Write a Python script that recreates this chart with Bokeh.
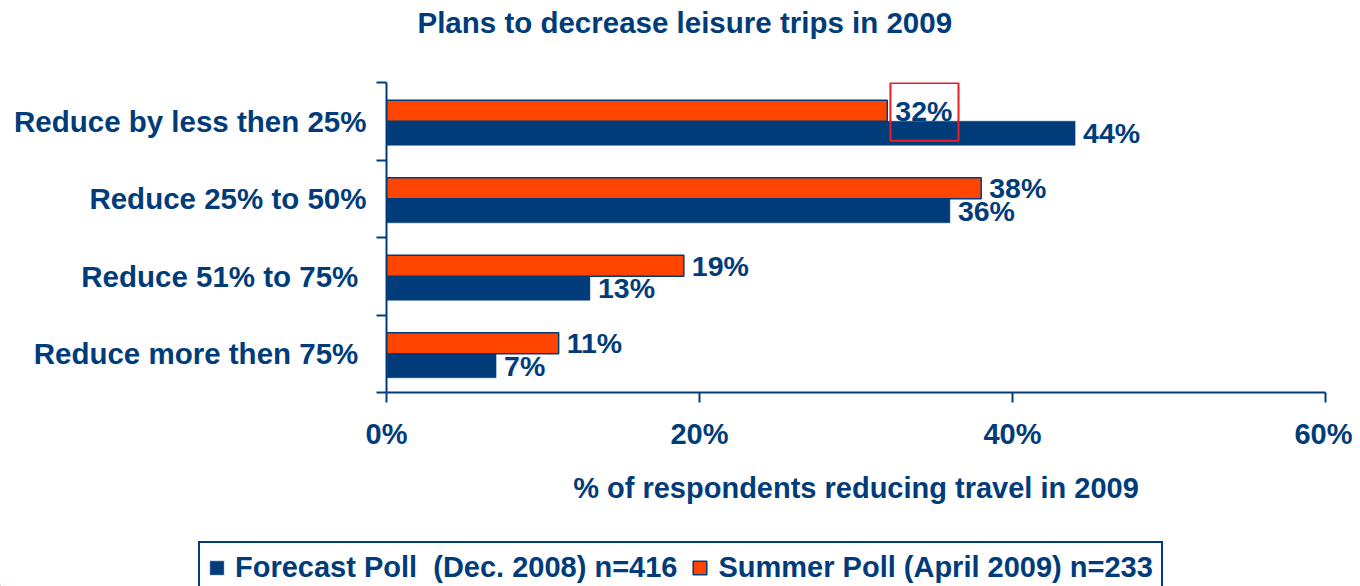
from bokeh.plotting import figure
from bokeh.layouts import column, row
from bokeh.models import (Range1d, FixedTicker, PrintfTickFormatter, Legend, LegendItem,
                          ColumnDataSource, BoxAnnotation, Title)
from bokeh.core.properties import value
from bokeh.embed import file_html
from bokeh.resources import INLINE

categories = ["Reduce by less then 25%", "Reduce 25% to 50%", "Reduce 51% to 75% ", "Reduce more then 75% "]
forecast = [44, 36, 13, 7]   # Forecast Poll (Dec. 2008)
summer = [32, 38, 19, 11]    # Summer Poll (April 2009)
x_ticks = [0, 20, 40, 60]
series_labels = ["Forecast Poll  (Dec. 2008) n=416", "Summer Poll (April 2009) n=233"]
title_text = "Plans to decrease leisure trips in 2009"
x_title = "% of respondents reducing travel in 2009"

NAVY = "#013c7a"
ORANGE = "#ff4500"
FONT = "Liberation Sans"

n = len(categories)
centers = [n - 0.5 - i for i in range(n)]

src_f = ColumnDataSource(dict(y=[c - 0.155 for c in centers], v=forecast,
                              t=[f"{v}%" for v in forecast]))
src_s = ColumnDataSource(dict(y=[c + 0.135 for c in centers], v=summer,
                              t=[f"{v}%" for v in summer]))

p = figure(width=1352, height=530, output_backend="svg", toolbar_location=None,
           x_range=Range1d(0, 60), y_range=Range1d(0, n),
           min_border_left=386, min_border_right=27, min_border_top=82, min_border_bottom=138)
p.outline_line_color = None
p.grid.grid_line_color = None
p.background_fill_color = "white"

# spacer between frame and title (first "above" item sits next to the frame)
p.add_layout(Title(text=" ", text_font_size="10px", standoff=29), "above")

p.title.text = title_text
p.title.align = "left"
p.title.offset = 31
p.title.text_font = FONT
p.title.text_font_size = "29.5px"
p.title.text_font_style = "bold"
p.title.text_color = NAVY
p.title.vertical_align = "top"
p.title.standoff = 0

bar_f = dict(fill_color=NAVY, line_color=NAVY, line_width=0.5)
bar_s = dict(fill_color=ORANGE, line_color=NAVY, line_width=1.5)

rf = p.hbar(y="y", right="v", left=0, height=0.31, source=src_f, **bar_f)
rs = p.hbar(y="y", right="v", left=0, height=0.27, source=src_s, **bar_s)

for src in (src_f, src_s):
    p.text(x="v", y="y", text="t", source=src, x_offset=8,
           text_font=value(FONT), text_font_size="28.5px", text_font_style="bold",
           text_color=NAVY, text_align="left", text_baseline="middle")

p.add_layout(BoxAnnotation(left=32.2, right=36.55, bottom=3.25, top=3.995,
                           fill_alpha=0, line_color="#ee1c25", line_alpha=1, line_width=2))

# x axis
xa = p.xaxis[0]
xa.ticker = FixedTicker(ticks=x_ticks)
xa.formatter = PrintfTickFormatter(format="%d%%")
xa.axis_label = x_title
xa.axis_label_text_font = FONT
xa.axis_label_text_font_size = "29px"
xa.axis_label_text_font_style = "bold"
xa.axis_label_text_color = NAVY
xa.axis_label_standoff = 19
xa.major_label_text_font = FONT
xa.major_label_text_font_size = "29px"
xa.major_label_text_font_style = "bold"
xa.major_label_text_color = NAVY
xa.major_label_standoff = 15
xa.axis_line_color = NAVY
xa.axis_line_width = 2
xa.major_tick_line_color = NAVY
xa.major_tick_line_width = 2
xa.major_tick_out = 10
xa.major_tick_in = 0
xa.minor_tick_line_color = None

# y axis
ya = p.yaxis[0]
ya.ticker = FixedTicker(ticks=centers, minor_ticks=list(range(n + 1)))
ya.major_label_overrides = {c: lab for c, lab in zip(centers, categories)}
ya.major_label_text_font = FONT
ya.major_label_text_font_size = "29.5px"
ya.major_label_text_font_style = "bold"
ya.major_label_text_color = NAVY
ya.major_label_standoff = 10
ya.major_tick_line_color = None
ya.major_tick_out = 10
ya.major_tick_in = 0
ya.minor_tick_line_color = NAVY
ya.minor_tick_line_width = 2
ya.minor_tick_out = 10
ya.minor_tick_in = 0
ya.axis_line_color = NAVY
ya.axis_line_width = 2

# legend strip (its own figure, so the legend can sit left of the chart frame)
pl = figure(width=1352, height=56, output_backend="svg", toolbar_location=None,
            x_range=Range1d(100, 110), y_range=Range1d(100, 110),
            x_axis_location=None, y_axis_location=None,
            min_border=0, min_border_left=0, min_border_right=0,
            min_border_top=0, min_border_bottom=0)
pl.outline_line_color = None
pl.grid.grid_line_color = None
lf = pl.hbar(y="y", right="v", left=0, height=0.31, source=src_f, **bar_f)
ls = pl.hbar(y="y", right="v", left=0, height=0.27, source=src_s, **bar_s)

legend = Legend(items=[LegendItem(label=series_labels[0], renderers=[lf]),
                       LegendItem(label=series_labels[1], renderers=[ls])],
                orientation="horizontal", location=(198, -8),
                border_line_color=NAVY, border_line_alpha=1, border_line_width=2,
                padding=8, spacing=14,
                label_standoff=10, glyph_width=17, glyph_height=17, margin=0,
                label_text_font=FONT, label_text_font_size="29px",
                label_text_font_style="bold", label_text_color=NAVY,
                background_fill_color="white", background_fill_alpha=1)
pl.add_layout(legend)

layout = column(p, row(pl), spacing=0)
open("out.html", "w").write(file_html(layout, INLINE))
